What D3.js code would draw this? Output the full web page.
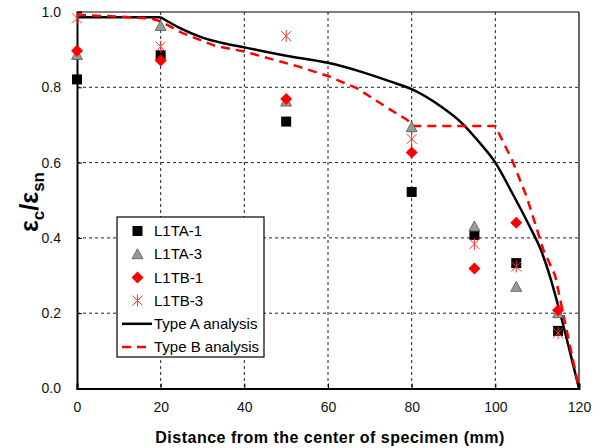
<!DOCTYPE html>
<meta charset="utf-8">
<style>
  body { margin: 0; background: #fff; }
  svg { font-family: "Liberation Sans", Arial, sans-serif; }
</style>
<svg width="601" height="448"></svg>
<script src="https://d3js.org/d3.v7.min.js"></script>
<script>
// measured data
var xTest = [0, 20, 50, 80, 95, 105, 115];
var L1TA1 = [0.821, 0.885, 0.709, 0.522, 0.408, 0.333, 0.153];
var L1TA3 = [0.886, 0.963, 0.762, 0.694, 0.430, 0.270, 0.200];
var L1TB1 = [0.897, 0.871, 0.769, 0.627, 0.319, 0.440, 0.208];
var L1TB3 = [0.983, 0.908, 0.936, 0.663, 0.384, 0.324, 0.147];

// analysis curves
var typeAx = [0, 20, 25, 30, 35, 40, 50, 60, 68, 75, 80, 87, 92, 96, 100, 104, 108, 111, 113, 115.5, 118, 120];
var typeAy = [0.986, 0.986, 0.955, 0.932, 0.917, 0.906, 0.884, 0.865, 0.841, 0.815, 0.795, 0.749, 0.705, 0.656, 0.600, 0.520, 0.435, 0.365, 0.300, 0.200, 0.090, 0];
var typeBx = [0, 10, 18, 20, 25, 33, 40, 53, 60, 67, 75, 79, 80, 100, 104, 107.5, 111.5, 114.3, 116.2, 120];
var typeBy = [0.992, 0.988, 0.982, 0.975, 0.945, 0.910, 0.895, 0.855, 0.830, 0.797, 0.740, 0.713, 0.697, 0.697, 0.607, 0.509, 0.368, 0.300, 0.200, 0];

var xTicks = [0, 20, 40, 60, 80, 100, 120];
var yTicks = [0, 0.2, 0.4, 0.6, 0.8, 1.0];

var svg = d3.select("svg");
var mLeft = 77, mRight = 579, mTop = 12, mBottom = 388.5;

var x = d3.scaleLinear().domain([0, 120]).range([mLeft, mRight]);
var y = d3.scaleLinear().domain([0, 1]).range([mBottom, mTop]);

// grid
svg.append("g").selectAll("line")
  .data(xTicks.slice(1, -1))
  .enter().append("line")
    .attr("x1", function(d) { return x(d); }).attr("x2", function(d) { return x(d); })
    .attr("y1", mTop).attr("y2", mBottom)
    .attr("stroke", "#222").attr("stroke-width", 1).attr("stroke-dasharray", "3,3");
svg.append("g").selectAll("line")
  .data(yTicks.slice(1, -1))
  .enter().append("line")
    .attr("y1", function(d) { return y(d); }).attr("y2", function(d) { return y(d); })
    .attr("x1", mLeft).attr("x2", mRight)
    .attr("stroke", "#222").attr("stroke-width", 1).attr("stroke-dasharray", "3,3");

// frame
svg.append("line").attr("x1", mLeft).attr("x2", mRight).attr("y1", mTop).attr("y2", mTop)
  .attr("stroke", "#000").attr("stroke-width", 1.2);
svg.append("line").attr("x1", mRight).attr("x2", mRight).attr("y1", mTop).attr("y2", mBottom)
  .attr("stroke", "#000").attr("stroke-width", 1.2);

// axes
var xAxis = svg.append("g")
  .attr("transform", "translate(0," + mBottom + ")")
  .call(d3.axisBottom(x).tickValues(xTicks).tickSize(-5).tickPadding(14).tickFormat(d3.format("d")));
var yAxis = svg.append("g")
  .attr("transform", "translate(" + mLeft + ",0)")
  .call(d3.axisLeft(y).tickValues(yTicks).tickSize(-5).tickPadding(16).tickFormat(d3.format(".1f")));
[xAxis, yAxis].forEach(function(a) {
  a.select(".domain").attr("stroke", "#000").attr("stroke-width", 2);
  a.selectAll(".tick line").attr("stroke", "#000");
  a.selectAll(".tick text").attr("font-size", 14).attr("fill", "#111")
    .attr("font-family", "'Liberation Sans', Arial, sans-serif");
});

// curves
var line = d3.line()
  .x(function(d) { return x(d[0]); })
  .y(function(d) { return y(d[1]); });
var ptsA = d3.zip(typeAx, typeAy);

svg.append("path")
  .datum(ptsA.slice(0, 2))
  .attr("d", line)
  .attr("fill", "none").attr("stroke", "#000").attr("stroke-width", 2.5);
svg.append("path")
  .datum(ptsA.slice(1))
  .attr("d", line.curve(d3.curveMonotoneX))
  .attr("fill", "none").attr("stroke", "#000").attr("stroke-width", 2.5);
line.curve(d3.curveLinear);
svg.append("path")
  .datum(d3.zip(typeBx, typeBy))
  .attr("d", line)
  .attr("fill", "none").attr("stroke", "#f00").attr("stroke-width", 2.5)
  .attr("stroke-dasharray", "9,6");

// markers
function square(g) {
  g.append("rect").attr("x", -5).attr("y", -5).attr("width", 10).attr("height", 10)
    .attr("fill", "#000");
}
function triangle(g) {
  g.append("path").attr("d", "M0,-5.5L5.5,4.5L-5.5,4.5Z")
    .attr("fill", "#999").attr("stroke", "#555").attr("stroke-width", 0.8);
}
function diamond(g) {
  g.append("path").attr("d", "M0,-6L6,0L0,6L-6,0Z").attr("fill", "#f00");
}
function star(g) {
  g.append("path").attr("d", "M-5,-5L5,5M-5,5L5,-5M0,-6L0,6")
    .attr("stroke", "#f33").attr("stroke-width", 1).attr("fill", "none");
}

var series = [
  { name: "L1TA-1", vals: L1TA1, mark: square },
  { name: "L1TA-3", vals: L1TA3, mark: triangle },
  { name: "L1TB-1", vals: L1TB1, mark: diamond },
  { name: "L1TB-3", vals: L1TB3, mark: star }
];

series.forEach(function(s) {
  svg.append("g").selectAll("g")
    .data(d3.zip(xTest, s.vals))
    .enter().append("g")
      .attr("transform", function(d) { return "translate(" + x(d[0]) + "," + y(d[1]) + ")"; })
      .each(function() { s.mark(d3.select(this)); });
});

// legend
var lg = svg.append("g");
lg.append("rect").attr("x", 117).attr("y", 217).attr("width", 147).attr("height", 140)
  .attr("fill", "#fff").attr("stroke", "#000").attr("stroke-width", 1.2);
var rowY = function(i) { return 231 + i * 23.2; };
series.forEach(function(s, i) {
  var g = lg.append("g").attr("transform", "translate(137.5," + rowY(i) + ")");
  s.mark(g);
  lg.append("text").attr("x", 154).attr("y", rowY(i)).attr("dy", "0.35em")
    .attr("font-size", 15).text(s.name);
});
lg.append("line").attr("x1", 122).attr("x2", 152).attr("y1", rowY(4)).attr("y2", rowY(4))
  .attr("stroke", "#000").attr("stroke-width", 2.5);
lg.append("text").attr("x", 154).attr("y", rowY(4)).attr("dy", "0.35em")
  .attr("font-size", 15).text("Type A analysis");
lg.append("line").attr("x1", 122).attr("x2", 152).attr("y1", rowY(5)).attr("y2", rowY(5))
  .attr("stroke", "#f00").attr("stroke-width", 2.5).attr("stroke-dasharray", "9,6");
lg.append("text").attr("x", 154).attr("y", rowY(5)).attr("dy", "0.35em")
  .attr("font-size", 15).text("Type B analysis");

// axis titles
svg.append("text")
  .attr("x", (mLeft + mRight) / 2 + 2).attr("y", 443)
  .attr("text-anchor", "middle").attr("font-size", 16).attr("font-weight", "bold")
  .attr("letter-spacing", 0.5)
  .text("Distance from the center of specimen (mm)");

var yl = svg.append("text")
  .attr("transform", "translate(38,202) rotate(-90)")
  .attr("text-anchor", "middle").attr("font-size", 25).attr("font-weight", "bold");
yl.append("tspan").text("ε");
yl.append("tspan").attr("font-size", 17).attr("dy", 6).text("c");
yl.append("tspan").attr("dy", -6).text("/ε");
yl.append("tspan").attr("font-size", 17).attr("dy", 6).text("sn");
</script>
